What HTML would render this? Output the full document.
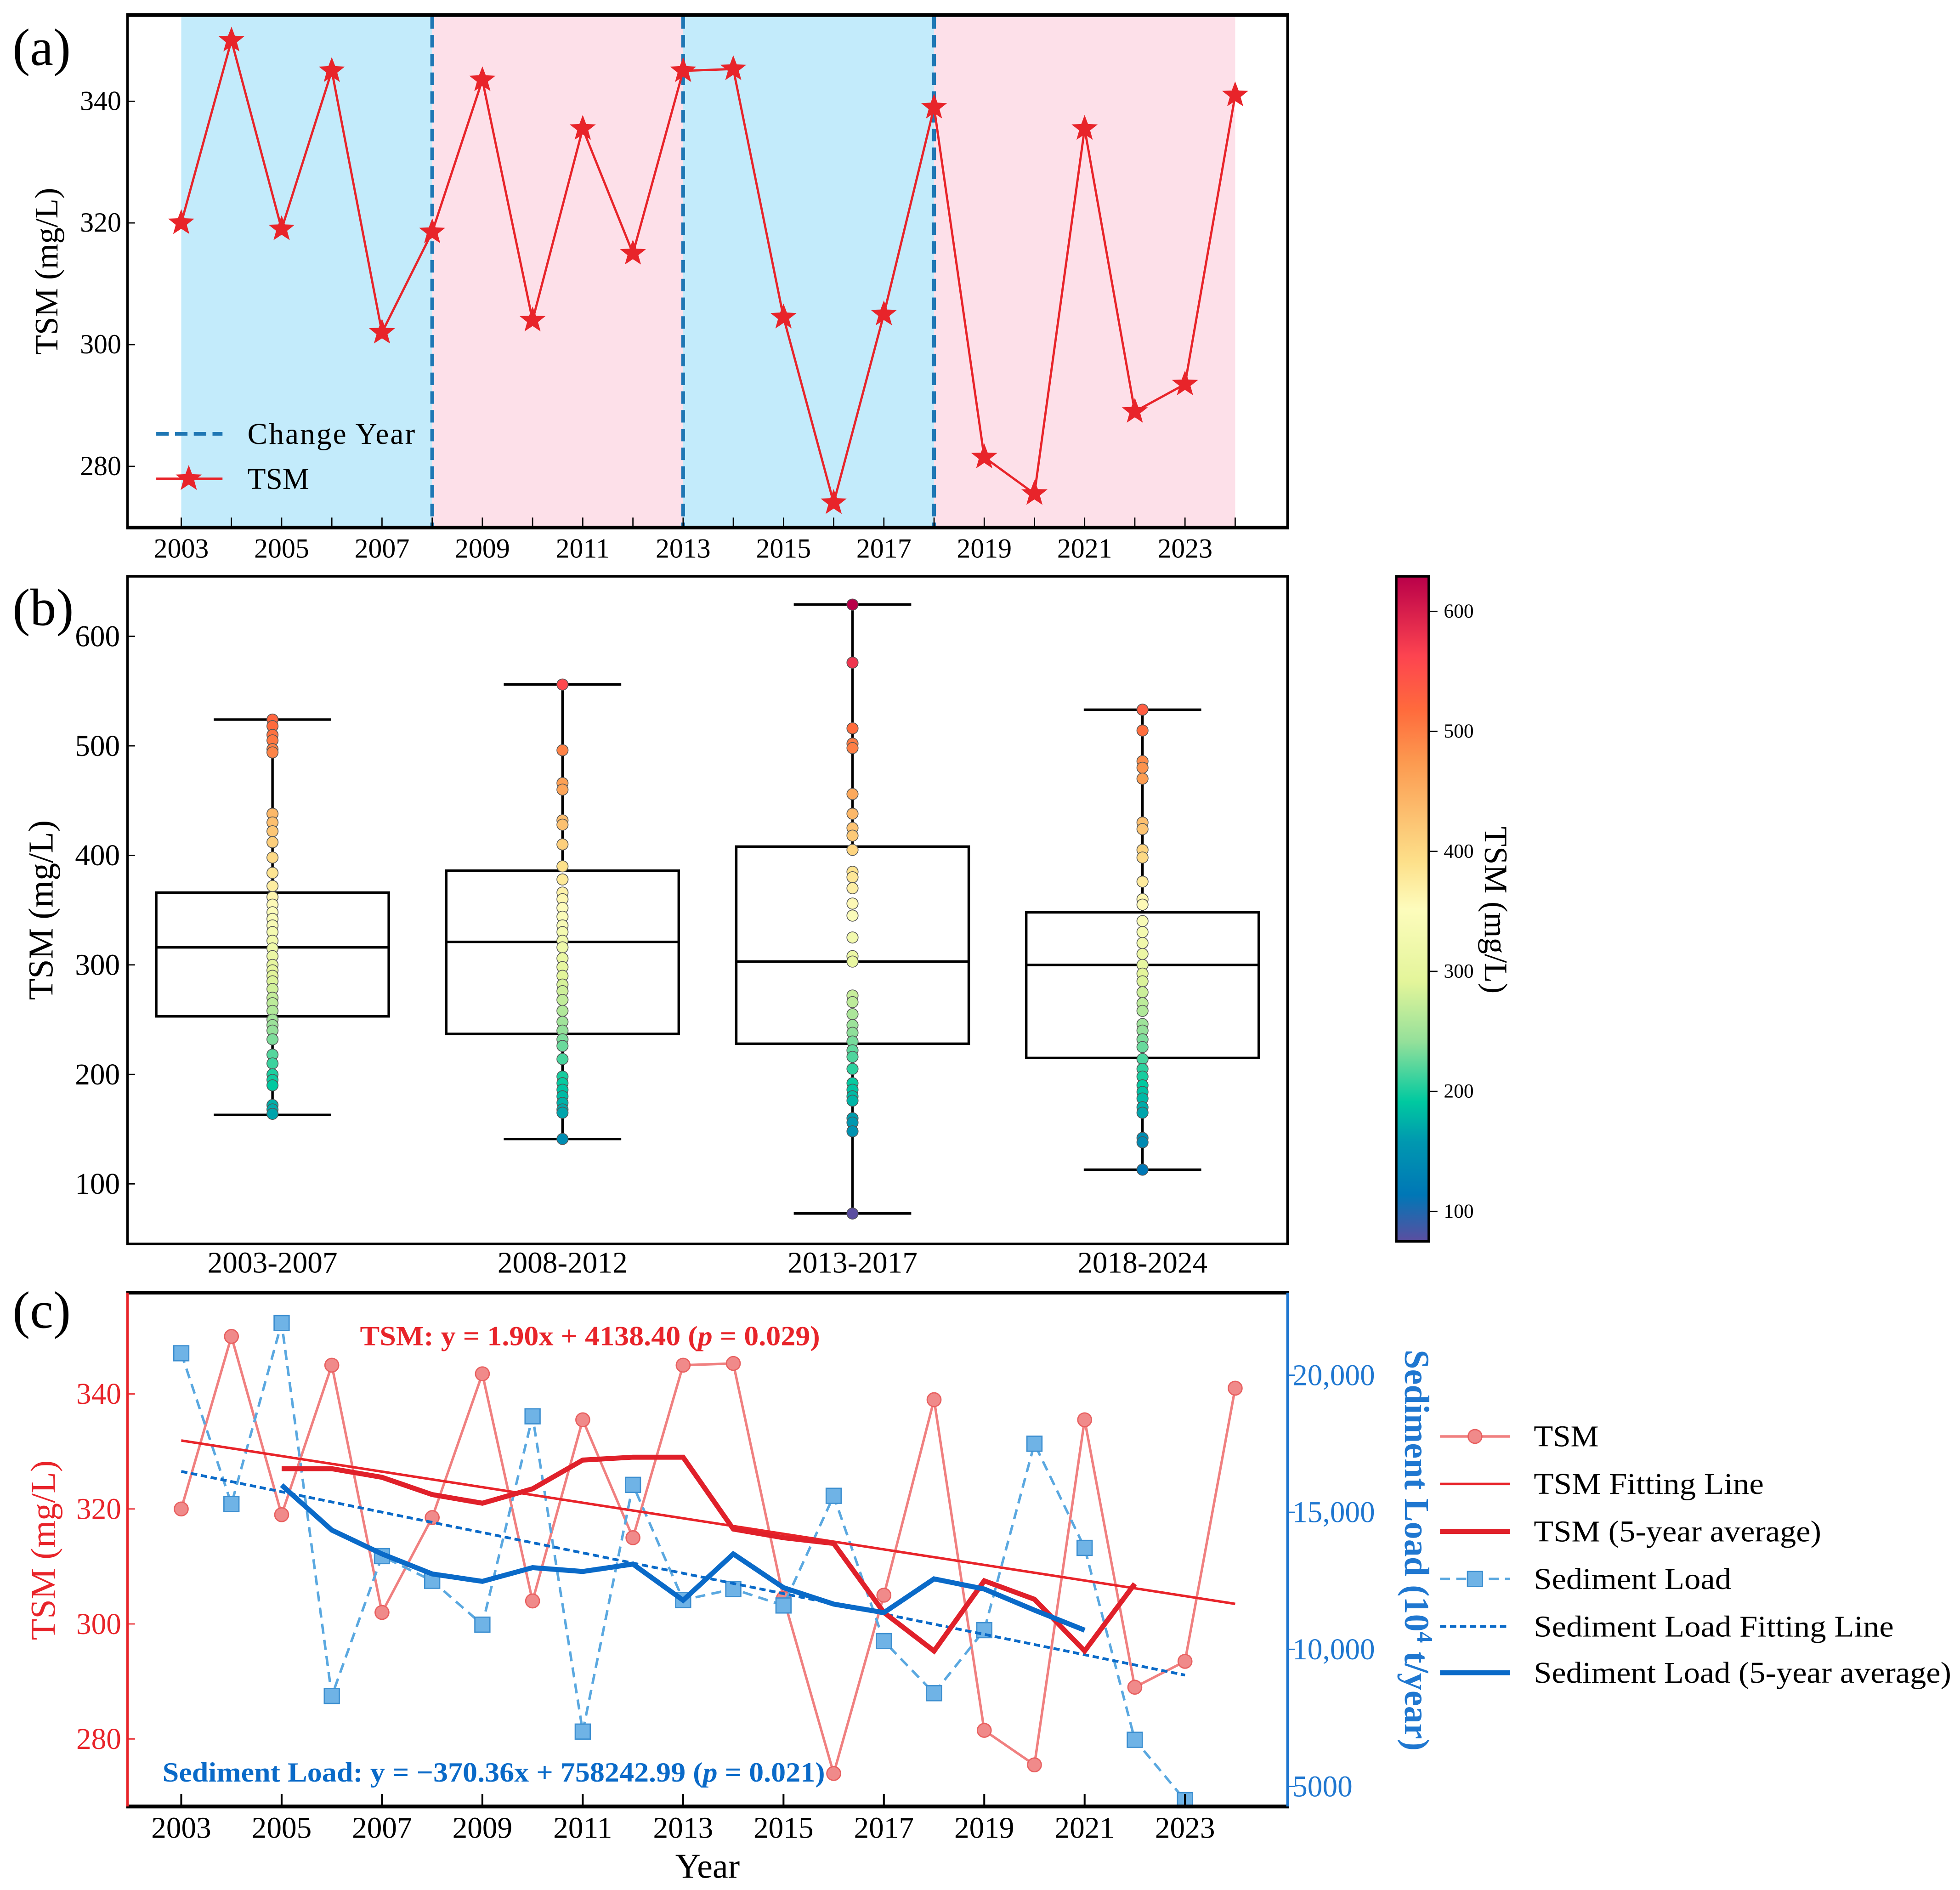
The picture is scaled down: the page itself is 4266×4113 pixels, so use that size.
<!DOCTYPE html>
<html><head><meta charset="utf-8"><style>
html,body{margin:0;padding:0;background:#fff;}
svg{display:block;font-family:"Liberation Serif",serif;}
</style></head><body>
<svg id="fig" xmlns="http://www.w3.org/2000/svg" width="4266" height="4113" viewBox="0 0 1568 1511.8" preserveAspectRatio="none">
<defs>
<linearGradient id="cmap" x1="0" y1="1" x2="0" y2="0">
<stop offset="0" stop-color="#5b4ea0"/><stop offset="0.07" stop-color="#0077b6"/><stop offset="0.15" stop-color="#0098b0"/>
<stop offset="0.21" stop-color="#00c9a0"/><stop offset="0.3" stop-color="#94e09a"/><stop offset="0.39" stop-color="#e3f59a"/>
<stop offset="0.5" stop-color="#fdfcbc"/><stop offset="0.57" stop-color="#fde08a"/><stop offset="0.64" stop-color="#fcc070"/>
<stop offset="0.72" stop-color="#fc9a50"/><stop offset="0.8" stop-color="#ff6a3c"/><stop offset="0.88" stop-color="#fd4450"/><stop offset="1" stop-color="#b90049"/>
</linearGradient>
</defs>
<g id="pa"></g>
<g id="pb"></g>
<g id="pc"></g>
</svg>
<script>
// ---------- data ----------
const years = [2003,2004,2005,2006,2007,2008,2009,2010,2011,2012,2013,2014,2015,2016,2017,2018,2019,2020,2021,2022,2023,2024];
const tsm = [320,350,319,345,302,318.5,343.5,304,335.5,315,345,345.3,304.5,274,305,339,281.5,275.5,335.5,289,293.5,341];
const changeYears = [2008,2013,2018];
const yearTicks = [2003,2005,2007,2009,2011,2013,2015,2017,2019,2021,2023];
const tsmTicks = [280,300,320,340];
const groups = ["2003-2007","2008-2012","2013-2017","2018-2024"];
const q1 = [253,237,228,215];
const med = [316,321,303,300];
const q3 = [366,386,408,348];
const wlo = [163,141,73,113];
const whi = [524,556,629,533];
const pts1 = [524,518,510,505,497,494,438,430,422,412,398,384,372,362,355,348,342,336,330,322,315,308,300,295,290,285,278,270,265,258,250,245,240,232,218,210,200,195,190,172,168,164];
const pts2 = [556,496,466,460,432,428,410,390,378,366,360,352,344,336,330,322,316,306,298,290,282,276,268,258,248,240,232,226,214,198,192,186,180,174,168,165,141];
const pts3 = [629,576,516,502,498,456,438,425,418,405,385,380,370,356,345,325,308,303,272,266,255,245,238,230,222,216,205,192,186,180,176,160,156,148,73];
const pts4 = [533,514,486,480,470,430,424,405,398,376,360,355,340,330,320,310,300,292,285,275,265,258,246,240,232,225,214,205,198,190,184,178,170,165,142,138,113];
const bTicks = [100,200,300,400,500,600];
const cbTicks = [100,200,300,400,500,600];
const sedYears = [2003,2004,2005,2006,2007,2008,2009,2010,2011,2012,2013,2014,2015,2016,2017,2018,2019,2020,2021,2022,2023];
const sed = [20800,15300,21900,8300,13400,12500,10900,18500,7000,16000,11800,12200,11600,15600,10300,8400,10700,17500,13700,6700,4500];
const avgYears = [2005,2006,2007,2008,2009,2010,2011,2012,2013,2014,2015,2016,2017,2018,2019,2020,2021,2022];
const tsmAvg = [327,327,325.5,322.5,321,323.5,328.5,329,329,316.5,315,314,302,295.3,307.5,304.3,295.3,307];
const sedAvgYears = [2005,2006,2007,2008,2009,2010,2011,2012,2013,2014,2015,2016,2017,2018,2019,2020,2021];
const sedAvg = [15990,14350,13480,12750,12480,12980,12840,13110,11790,13480,12250,11650,11340,12570,12200,11430,10700];
const tsmFitYears = [2003,2024];
const tsmFitVals = [331.9,303.5];
const sedFitYears = [2003,2023];
const sedFitVals = [16490,9060];
const sedTicks = [5000,10000,15000,20000];
const sedTickLabels = ["5000","10,000","15,000","20,000"];

// ---------- helpers ----------
const NS="http://www.w3.org/2000/svg";
function mk(parent,tag,attrs,text){const e=document.createElementNS(NS,tag);for(const k in attrs)e.setAttribute(k,attrs[k]);if(text!==undefined)e.textContent=text;parent.appendChild(e);return e;}
const xYear = y => 145 + (y-2003)*40.15;
function star(cx,cy,r){let p=[];for(let i=0;i<10;i++){const a=-Math.PI/2+i*Math.PI/5;const rr=i%2?r*0.42:r;p.push((cx+rr*Math.cos(a)).toFixed(1)+","+(cy+rr*Math.sin(a)).toFixed(1));}return p.join(" ");}
const cstops=[[0,[91,78,160]],[0.07,[0,119,182]],[0.15,[0,152,176]],[0.21,[0,201,160]],[0.3,[148,224,154]],[0.39,[227,245,154]],[0.5,[253,252,188]],[0.57,[253,224,138]],[0.64,[252,192,112]],[0.72,[252,154,80]],[0.8,[255,106,60]],[0.88,[253,68,80]],[1,[185,0,73]]];
function cmap(t){t=Math.max(0,Math.min(1,t));for(let i=1;i<cstops.length;i++){if(t<=cstops[i][0]){const a=cstops[i-1],b=cstops[i];const f=(t-a[0])/(b[0]-a[0]);const c=a[1].map((v,j)=>Math.round(v+(b[1][j]-v)*f));return `rgb(${c.join(",")})`;}}return "rgb(185,0,73)";}

// ---------- panel a ----------
const A=document.getElementById('pa');
const yA = v => 81 + (340-v)*4.867;
const shadeSeg=[[2003,2008,"#c3ebfb"],[2008,2013,"#fde0e9"],[2013,2018,"#c3ebfb"],[2018,2024,"#fde0e9"]];
shadeSeg.forEach((s,i)=>{const r=mk(A,'rect',{x:xYear(s[0]),y:13,width:xYear(s[1])-xYear(s[0]),height:408,fill:s[2]});

});
changeYears.forEach(y=>{const l=mk(A,'line',{x1:xYear(y),x2:xYear(y),y1:13,y2:421,stroke:"#1f77b4",'stroke-width':3,'stroke-dasharray':"10,5"});

});
mk(A,'polyline',{points:years.map((y,i)=>xYear(y)+","+yA(tsm[i])).join(" "),fill:"none",stroke:"#e8242a",'stroke-width':1.8,});
years.forEach((y,i)=>{const s=mk(A,'polygon',{points:star(xYear(y),yA(tsm[i]),11),fill:"#e8242a"});

});
mk(A,'rect',{x:102,y:12,width:928,height:410,fill:"none",stroke:"#000",'stroke-width':2,});
mk(A,'line',{x1:101,x2:1031,y1:12,y2:12,stroke:"#000",'stroke-width':3});
mk(A,'line',{x1:101,x2:1031,y1:422,y2:422,stroke:"#000",'stroke-width':3});
yearTicks.forEach(y=>{mk(A,'line',{x1:xYear(y),x2:xYear(y),y1:414,y2:422,stroke:"#000",'stroke-width':1});
const t=mk(A,'text',{x:xYear(y),y:446,'text-anchor':"middle",'font-size':22},String(y));

});
years.forEach(y=>{if(y%2===0)mk(A,'line',{x1:xYear(y),x2:xYear(y),y1:414,y2:422,stroke:"#000",'stroke-width':1});});
tsmTicks.forEach(v=>{mk(A,'line',{x1:102,x2:108,y1:yA(v),y2:yA(v),stroke:"#000"});
const t=mk(A,'text',{x:97,y:yA(v)+7,'text-anchor':"end",'font-size':22},String(v));

});
mk(A,'text',{x:46,y:217,'text-anchor':"middle",'font-size':26,transform:"rotate(-90 46 217)",},"TSM (mg/L)");
mk(A,'text',{x:10,y:52,'font-size':42,},"(a)");
mk(A,'line',{x1:125,x2:178,y1:347,y2:347,stroke:"#1f77b4",'stroke-width':3,'stroke-dasharray':"10,5",});
mk(A,'text',{x:198,y:355,'font-size':24,textLength:134,},"Change Year");
mk(A,'line',{x1:125,x2:178,y1:383,y2:383,stroke:"#e8242a",'stroke-width':2});
mk(A,'polygon',{points:star(151,383,11),fill:"#e8242a",});
mk(A,'text',{x:198,y:391,'font-size':24,},"TSM");

// ---------- panel b ----------
const B=document.getElementById('pb');
const yB = v => 947 - (v-100)*0.876;
const gx=[218,450,682,914];
const allPts=[pts1,pts2,pts3,pts4];
groups.forEach((g,i)=>{
 const x=gx[i];
 mk(B,'line',{x1:x,x2:x,y1:yB(whi[i]),y2:yB(q3[i]),stroke:"#000",'stroke-width':2});
 mk(B,'line',{x1:x,x2:x,y1:yB(q1[i]),y2:yB(wlo[i]),stroke:"#000",'stroke-width':2});
 mk(B,'line',{x1:x-47,x2:x+47,y1:yB(whi[i]),y2:yB(whi[i]),stroke:"#000",'stroke-width':2});
 mk(B,'line',{x1:x-47,x2:x+47,y1:yB(wlo[i]),y2:yB(wlo[i]),stroke:"#000",'stroke-width':2});
 const r=mk(B,'rect',{x:x-93,y:yB(q3[i]),width:186,height:yB(q1[i])-yB(q3[i]),fill:"none",stroke:"#000",'stroke-width':2});
 
 
 mk(B,'line',{x1:x-93,x2:x+93,y1:yB(med[i]),y2:yB(med[i]),stroke:"#000",'stroke-width':2});
 allPts[i].forEach(v=>{const c=mk(B,'circle',{cx:x,cy:yB(v),r:4.5,fill:cmap((v-73)/(629-73)),stroke:"#555",'stroke-width':0.6});
 
 });
 const t=mk(B,'text',{x:x,y:1018,'text-anchor':"middle",'font-size':24},g);
 
 
});
mk(B,'rect',{x:102,y:461,width:928,height:534,fill:"none",stroke:"#000",'stroke-width':2,});
bTicks.forEach(v=>{mk(B,'line',{x1:102,x2:108,y1:yB(v),y2:yB(v),stroke:"#000"});
const t=mk(B,'text',{x:96,y:yB(v)+8,'text-anchor':"end",'font-size':24},String(v));

});
mk(B,'text',{x:42,y:728,'text-anchor':"middle",'font-size':28,transform:"rotate(-90 42 728)",},"TSM (mg/L)");
mk(B,'text',{x:10,y:500,'font-size':42,},"(b)");
mk(B,'rect',{x:1117,y:461,width:26,height:532,fill:"url(#cmap)",stroke:"#000",'stroke-width':2,});
const yCB = v => 969 - (v-100)*0.96;
cbTicks.forEach(v=>{mk(B,'line',{x1:1143,x2:1150,y1:yCB(v),y2:yCB(v),stroke:"#000"});
const t=mk(B,'text',{x:1155,y:yCB(v)+5,'font-size':16},String(v));

});
mk(B,'text',{x:1188,y:728,'text-anchor':"middle",'font-size':26,transform:"rotate(90 1188 728)",},"TSM (mg/L)");

// ---------- panel c ----------
const C=document.getElementById('pc');
const yCl = v => 1115 + (340-v)*4.6;
const yCr = v => 1100 + (20000-v)*0.02193;
mk(C,'polyline',{points:years.map((y,i)=>xYear(y)+","+yCl(tsm[i])).join(" "),fill:"none",stroke:"#f08080",'stroke-width':2,});
years.forEach((y,i)=>{const c=mk(C,'circle',{cx:xYear(y),cy:yCl(tsm[i]),r:5.5,fill:"#f08a8a",stroke:"#e86060",'stroke-width':1});

});
mk(C,'polyline',{points:sedYears.map((y,i)=>xYear(y)+","+yCr(sed[i])).join(" "),fill:"none",stroke:"#5aa8e0",'stroke-width':2,'stroke-dasharray':"8,5",});
sedYears.forEach((y,i)=>{const r=mk(C,'rect',{x:xYear(y)-6,y:yCr(sed[i])-6,width:12,height:12,fill:"#6fb3e6",stroke:"#3d8fd0",'stroke-width':1});

});
mk(C,'line',{x1:xYear(tsmFitYears[0]),y1:yCl(tsmFitVals[0]),x2:xYear(tsmFitYears[1]),y2:yCl(tsmFitVals[1]),stroke:"#e8242a",'stroke-width':2,});
mk(C,'line',{x1:xYear(sedFitYears[0]),y1:yCr(sedFitVals[0]),x2:xYear(sedFitYears[1]),y2:yCr(sedFitVals[1]),stroke:"#0a6ac8",'stroke-width':2.2,'stroke-dasharray':"5,3",});
mk(C,'polyline',{points:avgYears.map((y,i)=>xYear(y)+","+yCl(tsmAvg[i])).join(" "),fill:"none",stroke:"#e0202a",'stroke-width':4,});
mk(C,'polyline',{points:sedAvgYears.map((y,i)=>xYear(y)+","+yCr(sedAvg[i])).join(" "),fill:"none",stroke:"#0a6ac8",'stroke-width':4,});
mk(C,'line',{x1:101,x2:1031,y1:1034,y2:1034,stroke:"#000",'stroke-width':3});
mk(C,'line',{x1:101,x2:1031,y1:1445,y2:1445,stroke:"#000",'stroke-width':3});
mk(C,'line',{x1:102,x2:102,y1:1034,y2:1445,stroke:"#e8242a",'stroke-width':2,});
mk(C,'line',{x1:1030,x2:1030,y1:1034,y2:1445,stroke:"#1f77d0",'stroke-width':2,});
yearTicks.forEach(y=>{mk(C,'line',{x1:xYear(y),x2:xYear(y),y1:1435,y2:1445,stroke:"#000",'stroke-width':1.5});
const t=mk(C,'text',{x:xYear(y),y:1470,'text-anchor':"middle",'font-size':24},String(y));

});
tsmTicks.forEach(v=>{mk(C,'line',{x1:102,x2:108,y1:yCl(v),y2:yCl(v),stroke:"#e8242a"});
const t=mk(C,'text',{x:97,y:yCl(v)+8,'text-anchor':"end",'font-size':24,fill:"#e8242a"},String(v));

});
sedTicks.forEach((v,i)=>{mk(C,'line',{x1:1030,x2:1036,y1:yCr(v),y2:yCr(v),stroke:"#1f77d0"});
const t=mk(C,'text',{x:1034,y:yCr(v)+8,'font-size':24,fill:"#1f77d0"},sedTickLabels[i]);

});
mk(C,'text',{x:566,y:1502,'text-anchor':"middle",'font-size':28,},"Year");
mk(C,'text',{x:44,y:1240,'text-anchor':"middle",'font-size':28,fill:"#e8242a",transform:"rotate(-90 44 1240)",},"TSM (mg/L)");
const rt=mk(C,'text',{x:1124,y:1240,'text-anchor':"middle",'font-size':28,fill:"#1f77d0",'font-weight':"bold",transform:"rotate(90 1124 1240)",});
rt.innerHTML='Sediment Load (10<tspan dy="-10" font-size="18">4</tspan><tspan dy="10"> t/year)</tspan>';
mk(C,'text',{x:10,y:1062,'font-size':42,},"(c)");
const e1=mk(C,'text',{x:288,y:1076,'font-size':22,'font-weight':"bold",fill:"#e8242a",textLength:368,lengthAdjust:"spacingAndGlyphs",});
e1.innerHTML='TSM: y = 1.90x + 4138.40 (<tspan font-style="italic">p</tspan> = 0.029)';
const e2=mk(C,'text',{x:130,y:1425,'font-size':22,'font-weight':"bold",fill:"#0a6ac8",textLength:530,lengthAdjust:"spacingAndGlyphs",});
e2.innerHTML='Sediment Load: y = −370.36x + 758242.99 (<tspan font-style="italic">p</tspan> = 0.021)';
// legend c
const L=mk(C,'g',{});
const rowsY=[1149,1187,1225,1263,1301,1338];
const labels=["TSM","TSM Fitting Line","TSM (5-year average)","Sediment Load","Sediment Load Fitting Line","Sediment Load (5-year average)"];
const lens=[52,184,230,158,288,334];
mk(L,'line',{x1:1152,x2:1208,y1:rowsY[0],y2:rowsY[0],stroke:"#f08080",'stroke-width':2});
mk(L,'circle',{cx:1180,cy:rowsY[0],r:5.5,fill:"#f08a8a",stroke:"#e86060"});
mk(L,'line',{x1:1152,x2:1208,y1:rowsY[1],y2:rowsY[1],stroke:"#e8242a",'stroke-width':2});
mk(L,'line',{x1:1152,x2:1208,y1:rowsY[2],y2:rowsY[2],stroke:"#e0202a",'stroke-width':4});
mk(L,'line',{x1:1152,x2:1208,y1:rowsY[3],y2:rowsY[3],stroke:"#5aa8e0",'stroke-width':2,'stroke-dasharray':"8,5"});
mk(L,'rect',{x:1174,y:rowsY[3]-6,width:12,height:12,fill:"#6fb3e6",stroke:"#3d8fd0"});
mk(L,'line',{x1:1152,x2:1208,y1:rowsY[4],y2:rowsY[4],stroke:"#0a6ac8",'stroke-width':2.2,'stroke-dasharray':"5,3"});
mk(L,'line',{x1:1152,x2:1208,y1:rowsY[5],y2:rowsY[5],stroke:"#0a6ac8",'stroke-width':4});
labels.forEach((s,i)=>{const t=mk(L,'text',{x:1227,y:rowsY[i]+8,'font-size':24,textLength:lens[i],lengthAdjust:"spacingAndGlyphs"},s);

});
</script>
</body></html>
